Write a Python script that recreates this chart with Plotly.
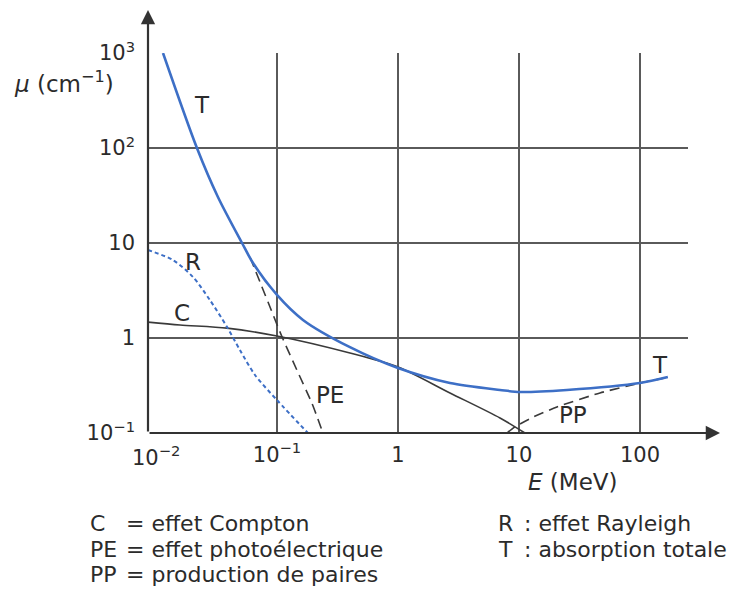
import math
import plotly.graph_objects as go

# ---------------- data ----------------
# T : absorption totale
t_E = [0.01143, 0.0218, 0.0325, 0.0514, 0.0634, 0.1, 0.164, 0.401, 1.0, 2.69, 6.97, 10.2, 24.9, 100, 170]
t_mu = [1000, 100, 30.5, 10, 6.15, 2.84, 1.55, 0.80, 0.483, 0.336, 0.284, 0.270, 0.284, 0.336, 0.388]

# R : effet Rayleigh
r_E = [0.00859, 0.0138, 0.0202, 0.0279, 0.0386, 0.0494, 0.0658, 0.1, 0.180]
r_mu = [8.43, 6.62, 4.39, 2.51, 1.31, 0.748, 0.408, 0.222, 0.1]

# C : effet Compton
c_E = [0.00859, 0.0158, 0.0386, 0.1, 0.401, 1.0, 2.69, 6.97, 11.2]
c_mu = [1.47, 1.37, 1.27, 1.05, 0.695, 0.495, 0.264, 0.144, 0.1]

# PE : effet photoélectrique
pe_E = [0.0598, 0.0843, 0.110, 0.146, 0.194, 0.240]
pe_mu = [7.12, 2.39, 1.03, 0.46, 0.207, 0.1]

# PP : production de paires
pp_E = [7.96, 9.27, 13.1, 20.6, 46.7, 100, 161]
pp_mu = [0.1, 0.116, 0.147, 0.188, 0.264, 0.336, 0.38]

x_tickvals = [0.1, 1, 10, 100]
x_ticktext = ["10<sup>−1</sup>", "1", "10", "100"]
y_tickvals = [0.1, 1, 10, 100, 1000]
y_ticktext = ["10<sup>−1</sup>", "1", "10", "10<sup>2</sup>", "10<sup>3</sup>"]

# curve labels: (text, E, mu)
curve_labels = [("T", 0.024, 284), ("R", 0.0202, 6.3), ("C", 0.0164, 1.83),
                ("PE", 0.274, 0.25), ("PP", 27.9, 0.155), ("T", 146, 0.52)]

legend_left = [("C", "= effet Compton"), ("PE", "= effet photoélectrique"), ("PP", "= production de paires")]
legend_right = [("R", ": effet Rayleigh"), ("T", ": absorption totale")]

# ---------------- figure ----------------
FONT = "DejaVu Sans, Verdana, sans-serif"
TXT = "#2b2b2b"
BLUE = "#3d6fc6"
BLK = "#3a3a3a"

fig = go.Figure()
fig.add_trace(go.Scatter(x=c_E, y=c_mu, mode="lines", line=dict(color=BLK, width=1.6, shape="spline", smoothing=0.8)))
fig.add_trace(go.Scatter(x=pe_E, y=pe_mu, mode="lines", line=dict(color=BLK, width=1.6, dash="10px,6px", shape="spline", smoothing=0.6)))
fig.add_trace(go.Scatter(x=pp_E, y=pp_mu, mode="lines", line=dict(color=BLK, width=1.6, dash="10px,6px", shape="spline", smoothing=0.6)))
fig.add_trace(go.Scatter(x=r_E, y=r_mu, mode="lines", line=dict(color=BLUE, width=2, dash="4px,3px", shape="spline", smoothing=0.8)))
fig.add_trace(go.Scatter(x=t_E, y=t_mu, mode="lines", line=dict(color=BLUE, width=2.6, shape="spline", smoothing=0.8)))

ann = []
for txt, e, m in curve_labels:
    ann.append(dict(x=math.log10(e), y=math.log10(m), xref="x", yref="y", text=txt, showarrow=False,
                    xanchor="center", yanchor="middle", font=dict(family=FONT, size=23, color=TXT)))

# 10^-2 tick label at axis origin
ann.append(dict(x=-2, y=0, xref="x", yref="paper", text="10<sup>−2</sup>", showarrow=False,
                xanchor="center", yanchor="top", yshift=-7, font=dict(family=FONT, size=21, color=TXT)))

# axis titles
ann.append(dict(x=-0.156, y=0.924, xref="paper", yref="paper", text="<i>μ</i> (cm<sup>−1</sup>)", showarrow=False,
                xanchor="center", yanchor="middle", font=dict(family=FONT, size=23, color=TXT)))
ann.append(dict(x=0.787, y=-0.129, xref="paper", yref="paper", text="<i>E</i> (MeV)", showarrow=False,
                xanchor="center", yanchor="middle", font=dict(family=FONT, size=23, color=TXT)))

# axis arrows
ann.append(dict(x=1.0593, y=0, xref="paper", yref="paper", ax=-572, ay=0, axref="pixel", ayref="pixel",
                text="", showarrow=True, arrowhead=2, arrowsize=1.3, arrowwidth=2.2, arrowcolor="#333333"))
ann.append(dict(x=0, y=1.113, xref="paper", yref="paper", ax=0, ay=423, axref="pixel", ayref="pixel",
                text="", showarrow=True, arrowhead=2, arrowsize=1.3, arrowwidth=2.2, arrowcolor="#333333"))

# legend text
LFS = 22
ly = [-0.239, -0.307, -0.373]
for (k, v), yy in zip(legend_left, ly):
    ann.append(dict(x=-0.111, y=yy, xref="paper", yref="paper", text=k, showarrow=False, xanchor="left",
                    yanchor="middle", font=dict(family=FONT, size=LFS, color=TXT)))
    ann.append(dict(x=-0.044, y=yy, xref="paper", yref="paper", text=v, showarrow=False, xanchor="left",
                    yanchor="middle", font=dict(family=FONT, size=LFS, color=TXT)))
for (k, v), yy in zip(legend_right, ly):
    ann.append(dict(x=0.644, y=yy, xref="paper", yref="paper", text=k, showarrow=False, xanchor="left",
                    yanchor="middle", font=dict(family=FONT, size=LFS, color=TXT)))
    ann.append(dict(x=0.692, y=yy, xref="paper", yref="paper", text=v, showarrow=False, xanchor="left",
                    yanchor="middle", font=dict(family=FONT, size=LFS, color=TXT)))

fig.update_layout(
    width=734, height=586,
    margin=dict(l=140, r=54, t=45, b=161),
    paper_bgcolor="white", plot_bgcolor="white",
    showlegend=False,
    annotations=ann,
    xaxis=dict(type="log", range=[-2.066, 2.397], tickvals=x_tickvals, ticktext=x_ticktext,
               showgrid=True, gridcolor="#5a5a5a", gridwidth=2, zeroline=False, showline=False,
               ticks="", ticklabelstandoff=7, tickfont=dict(family=FONT, size=21, color=TXT)),
    yaxis=dict(type="log", range=[-1, 3], tickvals=y_tickvals, ticktext=y_ticktext,
               showgrid=True, gridcolor="#5a5a5a", gridwidth=2, zeroline=False, showline=False,
               ticks="", ticklabelstandoff=12, tickfont=dict(family=FONT, size=21, color=TXT)),
)

fig.write_html("out.html")
